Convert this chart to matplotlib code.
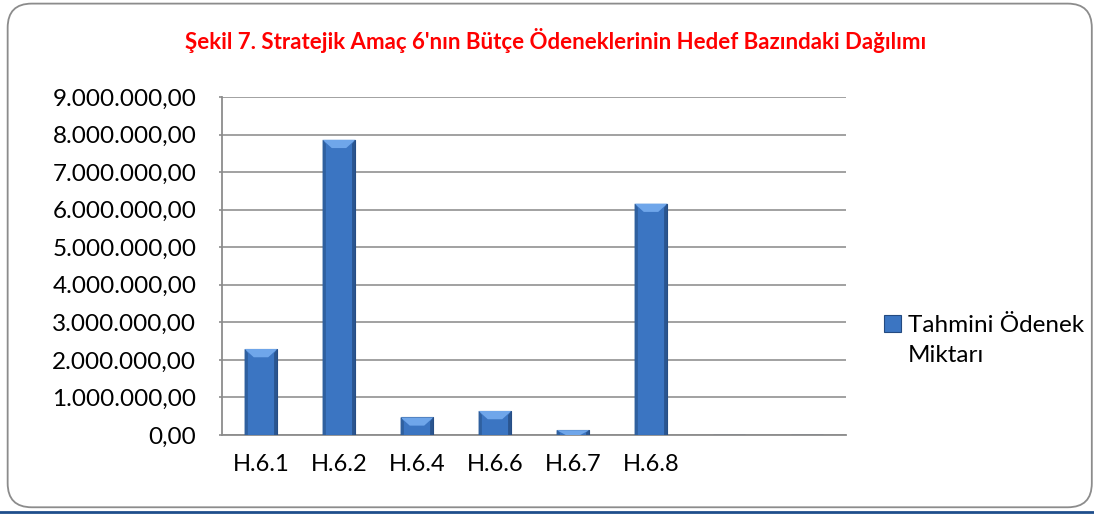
import matplotlib
matplotlib.use('Agg')
import matplotlib.pyplot as plt
from matplotlib.patches import FancyBboxPatch, Polygon
from matplotlib.ticker import FuncFormatter

categories = ['H.6.1', 'H.6.2', 'H.6.4', 'H.6.6', 'H.6.7', 'H.6.8', '', '']
values = [2290000, 7860000, 470000, 640000, 130000, 6160000, 0, 0]
series_name = ['Tahmini Ödenek', 'Miktarı']
title = "Şekil 7. Stratejik Amaç 6'nın Bütçe Ödeneklerinin Hedef Bazındaki Dağılımı"

plt.rcParams['font.family'] = ['Lato', 'DejaVu Sans']

fig = plt.figure(figsize=(10.94, 5.15), dpi=100)

# rounded frame + blue line at the bottom
frame = FancyBboxPatch((0.007, 0.015), 0.991, 0.978, boxstyle='round,pad=0,rounding_size=0.022',
                       transform=fig.transFigure, fill=False, ec='#8c8c8c', lw=1.3,
                       mutation_aspect=1094/515)
fig.patches.append(frame)
fig.add_artist(plt.Line2D([0, 1], [0.006, 0.006], transform=fig.transFigure, color='#1f4e8c', lw=2))

ax = fig.add_axes([0.2029, 0.1553, 0.5704, 0.6564])
x = list(range(len(categories)))
w = 0.42
bars = ax.bar(x, values, width=w, color='#3b75c2', edgecolor='#244a80', linewidth=0.8, zorder=3)

# bevel highlight on bar top
for b in bars:
    h = b.get_height()
    if h <= 0:
        continue
    x0 = b.get_x(); bw = b.get_width()
    d = min(h, 220000)
    ax.add_patch(Polygon([(x0, h), (x0 + bw, h), (x0 + bw * 0.72, h - d), (x0 + bw * 0.28, h - d)],
                         closed=True, fc='#6fa6ea', ec='none', zorder=4))
    ax.add_patch(Polygon([(x0, h), (x0 + bw * 0.1, h - d * 0.5), (x0 + bw * 0.1, 0), (x0, 0)],
                         closed=True, fc='#2f609f', ec='none', zorder=4))
    ax.add_patch(Polygon([(x0 + bw, h), (x0 + bw * 0.9, h - d * 0.5), (x0 + bw * 0.9, 0), (x0 + bw, 0)],
                         closed=True, fc='#2a558f', ec='none', zorder=4))

ax.set_xlim(-0.5, len(categories) - 0.5)
ax.set_ylim(0, 9000000)
ax.set_yticks(range(0, 9000001, 1000000))


def tr_fmt(v, pos):
    s = f'{v:,.2f}'
    return s.replace(',', 'X').replace('.', ',').replace('X', '.')


ax.yaxis.set_major_formatter(FuncFormatter(tr_fmt))
ax.set_xticks(x)
ax.set_xticklabels(categories)
ax.tick_params(axis='y', labelsize=17.5, length=2.5, width=1.2, color='#8c8c8c', pad=16)
ax.tick_params(axis='x', labelsize=17, length=0, pad=14)
ax.grid(axis='y', color='#9a9a9a', lw=1.3, zorder=0)
for s in ['top', 'right']:
    ax.spines[s].set_visible(False)
ax.spines['left'].set_color('#8c8c8c')
ax.spines['bottom'].set_color('#8c8c8c')
ax.spines['left'].set_linewidth(1.3)
ax.spines['bottom'].set_linewidth(1.3)

fig.text(0.508, 0.922, title, ha='center', va='center', color='#ff0000',
         fontsize=16, fontweight='bold')

leg = ax.legend([bars[0]], [series_name[0]], loc='center left', bbox_to_anchor=(1.045, 0.325),
                frameon=False, fontsize=17.5, handlelength=0.7, handleheight=0.7,
                handletextpad=0.3, borderaxespad=0)

# second line of the legend label, under the first one
fig.canvas.draw()
bb = leg.get_texts()[0].get_window_extent()
fig.text(bb.x0 / fig.bbox.width, (bb.y0 - 30) / fig.bbox.height, series_name[1],
         fontsize=17.5, ha='left', va='bottom')

fig.savefig('out.png', dpi=100)
